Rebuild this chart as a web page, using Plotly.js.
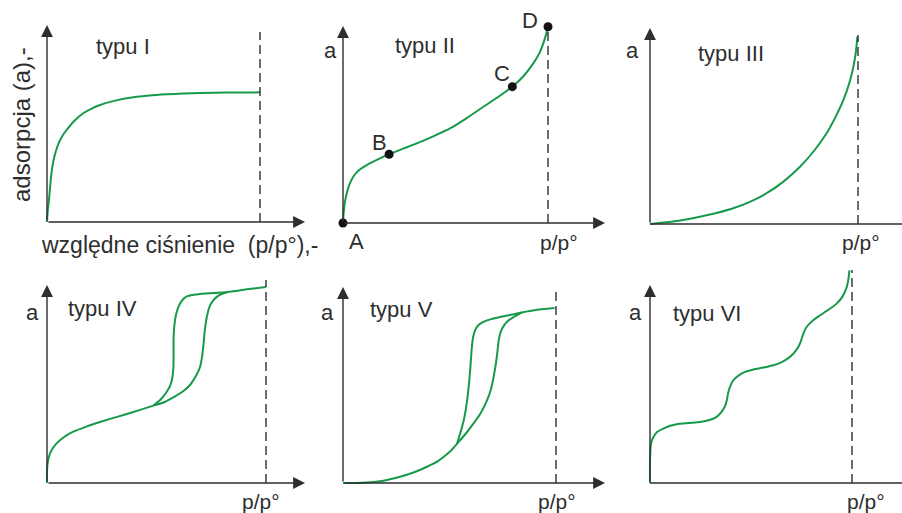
<!DOCTYPE html>
<html>
<head>
<meta charset="utf-8">
<script src="https://cdn.plot.ly/plotly-3.0.1.min.js"></script>
<style>html,body{margin:0;padding:0;background:#fff;}#chart{width:902px;height:513px;}</style>
</head>
<body>
<div id="chart"></div>
<script>
// ---- data: relative pressure p/p° (x) and adsorption a (y, arbitrary units) ----
const typeI_x   = [0, 0.004, 0.009, 0.014, 0.02, 0.03, 0.042, 0.055, 0.072, 0.092, 0.13, 0.17, 0.21, 0.249, 0.32, 0.405, 0.48, 0.562, 0.64, 0.718, 0.85, 1.0];
const typeI_y   = [0, 0.06, 0.11, 0.17, 0.24, 0.31, 0.36, 0.4, 0.437, 0.467, 0.515, 0.552, 0.576, 0.594, 0.616, 0.633, 0.642, 0.648, 0.652, 0.655, 0.657, 0.658];

const typeII_x  = [0, 0.004, 0.01, 0.018, 0.032, 0.05, 0.08, 0.116, 0.18, 0.225, 0.29, 0.36, 0.44, 0.522, 0.6, 0.685, 0.76, 0.826, 0.88, 0.928, 0.96, 0.977, 0.99, 1.0];
const typeII_y  = [0, 0.06, 0.11, 0.15, 0.197, 0.235, 0.27, 0.294, 0.328, 0.349, 0.376, 0.404, 0.44, 0.48, 0.53, 0.59, 0.642, 0.692, 0.745, 0.81, 0.866, 0.912, 0.955, 0.996];
const typeII_ptX = [0, 0.225, 0.826, 1.0];
const typeII_ptY = [0, 0.349, 0.692, 0.996];
const typeII_ptLabels = ['A', 'B', 'C', 'D'];

const typeIII_x = [0, 0.12, 0.24, 0.32, 0.4, 0.48, 0.561, 0.64, 0.721, 0.79, 0.849, 0.893, 0.93, 0.958, 0.978, 0.99, 0.997];
const typeIII_y = [0, 0.014, 0.037, 0.056, 0.08, 0.113, 0.157, 0.215, 0.292, 0.375, 0.463, 0.548, 0.633, 0.718, 0.803, 0.88, 0.956];

const typeIV_adsX = [0, 0, 0.005, 0.014, 0.028, 0.044, 0.075, 0.12, 0.18, 0.242, 0.32, 0.394, 0.45, 0.486, 0.535, 0.577, 0.62, 0.653, 0.68, 0.699, 0.709, 0.715, 0.721, 0.73, 0.742, 0.76, 0.785, 0.821, 0.87, 0.912, 1.0];
const typeIV_adsY = [0, 0.06, 0.115, 0.15, 0.178, 0.2, 0.23, 0.259, 0.285, 0.308, 0.334, 0.359, 0.378, 0.391, 0.408, 0.433, 0.462, 0.495, 0.54, 0.587, 0.645, 0.705, 0.775, 0.84, 0.89, 0.924, 0.948, 0.963, 0.971, 0.978, 0.99];
const typeIV_desX = [0.486, 0.52, 0.547, 0.562, 0.572, 0.577, 0.578, 0.578, 0.582, 0.592, 0.612, 0.638, 0.67, 0.699, 0.76, 0.821];
const typeIV_desY = [0.391, 0.423, 0.461, 0.49, 0.53, 0.58, 0.65, 0.73, 0.8, 0.862, 0.915, 0.942, 0.951, 0.955, 0.959, 0.963];

const typeV_adsX = [0, 0.06, 0.11, 0.19, 0.268, 0.334, 0.394, 0.44, 0.472, 0.505, 0.535, 0.575, 0.613, 0.648, 0.676, 0.695, 0.707, 0.718, 0.725, 0.731, 0.74, 0.755, 0.775, 0.802, 0.84, 0.9, 0.993];
const typeV_adsY = [0, 0, 0.002, 0.012, 0.032, 0.055, 0.083, 0.108, 0.133, 0.163, 0.2, 0.25, 0.304, 0.36, 0.422, 0.48, 0.541, 0.61, 0.67, 0.728, 0.77, 0.803, 0.828, 0.847, 0.87, 0.882, 0.893];
const typeV_desX = [0.535, 0.552, 0.567, 0.58, 0.59, 0.598, 0.605, 0.611, 0.62, 0.635, 0.659, 0.695, 0.737, 0.79, 0.84];
const typeV_desY = [0.2, 0.26, 0.32, 0.4, 0.49, 0.59, 0.694, 0.745, 0.779, 0.805, 0.822, 0.836, 0.847, 0.858, 0.87];

const typeVI_x = [0, 0, 0.003, 0.008, 0.017, 0.035, 0.066, 0.1, 0.132, 0.19, 0.248, 0.295, 0.33, 0.355, 0.372, 0.38, 0.387, 0.396, 0.41, 0.429, 0.46, 0.512, 0.56, 0.611, 0.655, 0.693, 0.725, 0.745, 0.758, 0.776, 0.805, 0.842, 0.885, 0.924, 0.952, 0.974, 0.983, 0.987];
const typeVI_y = [0, 0.1, 0.182, 0.21, 0.232, 0.258, 0.275, 0.289, 0.297, 0.303, 0.308, 0.318, 0.334, 0.36, 0.39, 0.417, 0.455, 0.485, 0.515, 0.535, 0.556, 0.573, 0.583, 0.595, 0.612, 0.637, 0.672, 0.71, 0.752, 0.789, 0.82, 0.847, 0.876, 0.906, 0.94, 0.99, 1.035, 1.074];

const panelTitles = ['typu I', 'typu II', 'typu III', 'typu IV', 'typu V', 'typu VI'];
const xLabel = 'p/p°';
const yLabel = 'a';
const xTitleFull = 'względne ciśnienie  (p/p°),-';
const yTitleFull = 'adsorpcja (a),-';

// ---- layout geometry (pixels) ----
const W = 902, H = 513;
const GREEN = '#17994a', INK = '#2e2e2e';
const FONT = '"Liberation Sans", Arial, sans-serif';

// x0: origin px, xd: p/p°=1 px, yb: a=0 px, yt: arrow tip px (a=1), box: [left,right,top,bottom]
const panels = [
  {x0: 47,  xd: 260, yb: 222, yt: 25,  box: [0, 325, 0, 258],   xTip: 305, dashTop: 32,  arrowX: true},
  {x0: 343, xd: 548, yb: 223, yt: 26,  box: [325, 625, 0, 258], xTip: 605, dashTop: 27,  arrowX: true},
  {x0: 650, xd: 858, yb: 224, yt: 28,  box: [625, 902, 0, 258], xTip: 902, dashTop: 35,  arrowX: false},
  {x0: 47,  xd: 266, yb: 483, yt: 285, box: [0, 325, 258, 513], xTip: 305, dashTop: 280, arrowX: true},
  {x0: 343, xd: 556, yb: 483, yt: 287, box: [325, 625, 258, 513], xTip: 605, dashTop: 292, arrowX: true},
  {x0: 650, xd: 852, yb: 483, yt: 285, box: [625, 902, 258, 513], xTip: 902, dashTop: 270, arrowX: false}
];

const layout = {
  width: W, height: H,
  margin: {l: 0, r: 0, t: 0, b: 0},
  paper_bgcolor: '#fff', plot_bgcolor: 'rgba(0,0,0,0)',
  showlegend: false,
  font: {family: FONT, color: INK},
  annotations: [], shapes: []
};

const px2x = (p, v) => (v - p.x0) / (p.xd - p.x0);
const px2y = (p, v) => (p.yb - v) / (p.yb - p.yt);
const paper = (px, py) => ({x: px / W, y: 1 - py / H, xref: 'paper', yref: 'paper', xanchor: 'center', yanchor: 'middle'});

const arrowStyle = {text: '', showarrow: true, arrowhead: 2, arrowsize: 1.7, arrowwidth: 1.4, arrowcolor: INK, standoff: 0};

panels.forEach((p, i) => {
  const n = i === 0 ? '' : String(i + 1);
  const [l, r, t, b] = p.box;
  layout['xaxis' + n] = {
    domain: [l / W, r / W], range: [px2x(p, l), px2x(p, r)],
    visible: false, fixedrange: true, anchor: 'y' + n
  };
  layout['yaxis' + n] = {
    domain: [1 - b / H, 1 - t / H], range: [px2y(p, b), px2y(p, t)],
    visible: false, fixedrange: true, anchor: 'x' + n
  };
  const xr = 'x' + n, yr = 'y' + n;
  // y axis with arrow
  layout.annotations.push(Object.assign({x: 0, y: 1, ax: 0, ay: 0, xref: xr, yref: yr, axref: xr, ayref: yr}, arrowStyle));
  // x axis
  const xEnd = px2x(p, p.xTip);
  if (p.arrowX) {
    layout.annotations.push(Object.assign({x: xEnd, y: 0, ax: 0, ay: 0, xref: xr, yref: yr, axref: xr, ayref: yr}, arrowStyle));
  } else {
    layout.shapes.push({type: 'line', xref: xr, yref: yr, x0: 0, x1: xEnd, y0: 0, y1: 0,
      line: {color: INK, width: 1.4}});
  }
  // dashed p/p° = 1 line
  layout.shapes.push({type: 'line', xref: xr, yref: yr, x0: 1, x1: 1, y0: 0, y1: px2y(p, p.dashTop),
    line: {color: INK, width: 1.4, dash: '9px,5px'}});
});

// ---- text labels ----
const txt = (s, px, py, size, extra) => Object.assign({text: s, showarrow: false,
  font: {family: FONT, size: size, color: INK}}, paper(px, py), extra || {});
const titlePos = [[123, 47], [425, 45], [731, 53], [102, 308], [401, 309], [707, 313]];
panelTitles.forEach((s, i) => layout.annotations.push(txt(s, titlePos[i][0], titlePos[i][1], 22)));
const aPos = [[330, 51], [632, 51], [32, 312], [327, 312], [635, 312]];
aPos.forEach(q => layout.annotations.push(txt(yLabel, q[0], q[1], 22)));
const ppPos = [[559, 243], [861, 243], [261, 501], [557, 501], [866, 501]];
ppPos.forEach(q => layout.annotations.push(txt(xLabel, q[0], q[1], 21)));
layout.annotations.push(txt(xTitleFull, 179, 245, 23));
layout.annotations.push(txt(yTitleFull, 21, 125, 24, {textangle: -90}));
const ptLabelPos = [[356, 241], [379, 143], [502, 73], [530, 20]];
typeII_ptLabels.forEach((s, k) => layout.annotations.push(txt(s, ptLabelPos[k][0], ptLabelPos[k][1], 22)));

// ---- traces ----
const curve = (x, y, n) => ({x: x, y: y, xaxis: 'x' + n, yaxis: 'y' + n, type: 'scatter', mode: 'lines',
  line: {color: GREEN, width: 2, shape: 'spline', smoothing: 0.6}, hoverinfo: 'skip'});
const data = [
  curve(typeI_x, typeI_y, ''),
  curve(typeII_x, typeII_y, '2'),
  {x: typeII_ptX, y: typeII_ptY, xaxis: 'x2', yaxis: 'y2', type: 'scatter', mode: 'markers',
    marker: {color: '#111', size: 9}, cliponaxis: false, hoverinfo: 'skip'},
  curve(typeIII_x, typeIII_y, '3'),
  curve(typeIV_adsX, typeIV_adsY, '4'),
  curve(typeIV_desX, typeIV_desY, '4'),
  curve(typeV_adsX, typeV_adsY, '5'),
  curve(typeV_desX, typeV_desY, '5'),
  curve(typeVI_x, typeVI_y, '6')
];

Plotly.newPlot('chart', data, layout, {staticPlot: true, displayModeBar: false});
</script>
</body>
</html>
